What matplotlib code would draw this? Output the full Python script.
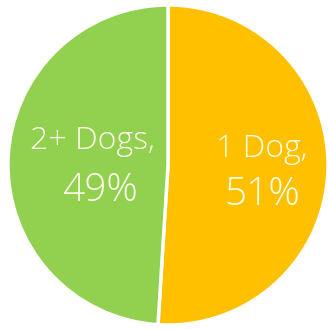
import numpy as np
import matplotlib
matplotlib.use("Agg")
import matplotlib.pyplot as plt

labels = ["1 Dog", "2+ Dogs"]
shares = [51, 49]
colors = ["#FFC000", "#92D050"]

# anchor points (data units) for the name line and the percent line of each label
name_pos = [(0.5875, 0.05), (-0.472, 0.10)]
pct_pos = [(0.5875, -0.25), (-0.425, -0.225)]

fig = plt.figure(figsize=(3.28, 3.29), dpi=100)
ax = fig.add_axes([8 / 328, 4 / 329, 320 / 328, 320 / 329])

wedges, _ = ax.pie(shares, colors=colors, startangle=90, counterclock=False,
                   wedgeprops=dict(edgecolor="white", linewidth=2.5))
ax.set_xlim(-1, 1)
ax.set_ylim(-1, 1)
ax.set_aspect("equal")

txt_color = "#FFFFEC"
for lab, val, p1, p2 in zip(labels, shares, name_pos, pct_pos):
    ax.text(p1[0], p1[1], f"{lab},", ha="center", va="baseline",
            color=txt_color, fontsize=23, family="Open Sans", fontweight="light")
    ax.text(p2[0], p2[1], f"{val}%", ha="center", va="baseline",
            color=txt_color, fontsize=28, family="Open Sans", fontweight="light")

fig.savefig("out.png", dpi=100)
